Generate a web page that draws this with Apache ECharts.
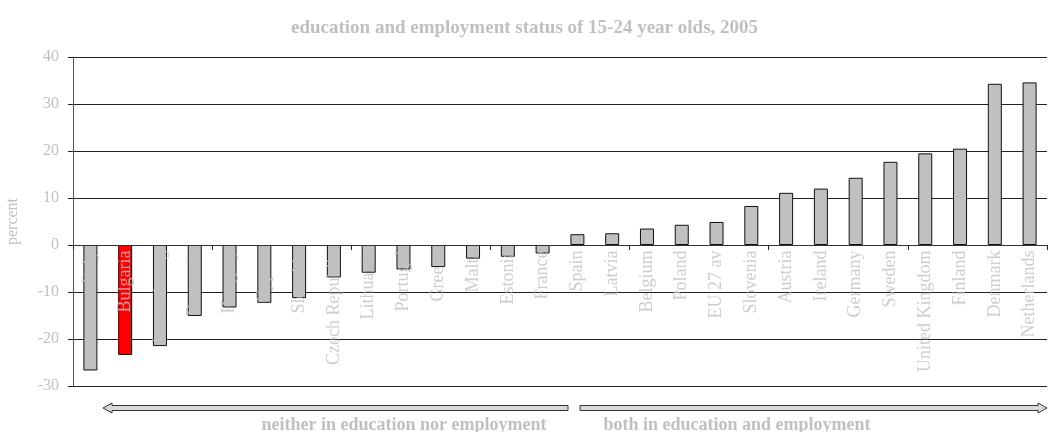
<!DOCTYPE html>
<html><head><meta charset="utf-8">
<script src="https://cdn.jsdelivr.net/npm/echarts@6/dist/echarts.min.js"></script>
<style>html,body{margin:0;padding:0;background:#fff}#c{width:1049px;height:432px}</style>
</head><body><div id="c"></div>
<script>
const categories = ["Italy","Bulgaria","Luxembourg","Romania","Hungary","Cyprus","Slovakia","Czech Republic","Lithuania","Portugal","Greece","Malta","Estonia","France","Spain","Latvia","Belgium","Poland","EU 27 av","Slovenia","Austria","Ireland","Germany","Sweden","United Kingdom","Finland","Denmark","Netherlands"];
const values = [-26.7,-23.4,-21.5,-15.1,-13.3,-12.3,-11.3,-6.9,-5.9,-5.2,-4.7,-2.9,-2.5,-1.8,2.3,2.5,3.5,4.3,4.9,8.3,11.1,12.0,14.3,17.7,19.5,20.5,34.3,34.6];
const highlight = "Bulgaria";
const yTicks = [-30,-20,-10,0,10,20,30,40];
const titleText = "education and employment status of 15-24 year olds, 2005";
const leftNote = "neither in education nor employment";
const rightNote = "both in education and employment";

const FONT = "'Liberation Serif','Times New Roman',serif";
const GREY = "#c0c0c0";
const chart = echarts.init(document.getElementById('c'), null, {renderer:'canvas'});

function arrowPoly(x1, x2, yc, dir) {
  const h = 2.5, H = 5, L = 9;
  if (dir < 0) {
    return [[x1, yc],[x1+L, yc-H],[x1+L, yc-h],[x2, yc-h],[x2, yc+h],[x1+L, yc+h],[x1+L, yc+H]];
  }
  return [[x2, yc],[x2-L, yc-H],[x2-L, yc-h],[x1, yc-h],[x1, yc+h],[x2-L, yc+h],[x2-L, yc+H]];
}

chart.setOption({
  animation:false,
  title:{text:titleText,left:'center',top:14,textStyle:{fontFamily:FONT,fontSize:19,fontWeight:'bold',color:GREY}},
  grid:{left:73,right:2,top:57,bottom:46,containLabel:false,outerBoundsMode:'none'},
  xAxis:{type:'category',data:categories,z:3,
    axisLine:{onZero:true,lineStyle:{color:'#333',width:1}},
    axisTick:{show:true,length:5,lineStyle:{color:'#222'}},
    axisLabel:{show:false},
    splitLine:{show:false}},
  yAxis:{type:'value',min:yTicks[0],max:yTicks[yTicks.length-1],interval:10,
    name:'percent',nameLocation:'middle',nameGap:52,nameRotate:90,
    nameTextStyle:{color:GREY,fontFamily:FONT,fontSize:16},
    axisLine:{show:true,lineStyle:{color:'#555'}},
    axisTick:{show:true,length:5,lineStyle:{color:'#222'}},
    axisLabel:{color:GREY,fontFamily:FONT,fontSize:16,margin:14},
    splitLine:{show:true,lineStyle:{color:'#222',width:1}}},
  series:[
    {type:'bar',barWidth:14,
      data:values.map((v,i)=>({value:v,itemStyle:{color:categories[i]===highlight?'#ff0000':GREY}})),
      itemStyle:{borderColor:'#111',borderWidth:1}},
    {type:'scatter',z:5,silent:true,symbolSize:1,itemStyle:{color:'rgba(0,0,0,0)'},
      data:categories.map(c=>[c,0]),
      label:{show:true,position:'bottom',distance:5,rotate:90,align:'right',verticalAlign:'middle',
        formatter:p=>p.data[0],color:GREY,fontFamily:FONT,fontSize:18}}
  ],
  graphic:[
    {type:'polygon',shape:{points:arrowPoly(103,568,408,-1)},style:{fill:'#d8d8d8',stroke:'#333',lineWidth:1}},
    {type:'polygon',shape:{points:arrowPoly(580,1047,408,1)},style:{fill:'#d8d8d8',stroke:'#333',lineWidth:1}},
    {type:'text',x:404,y:416,style:{text:leftNote,align:'center',fill:GREY,font:"bold 18px "+FONT}},
    {type:'text',x:737,y:416,style:{text:rightNote,align:'center',fill:GREY,font:"bold 18px "+FONT}}
  ]
});
</script></body></html>
